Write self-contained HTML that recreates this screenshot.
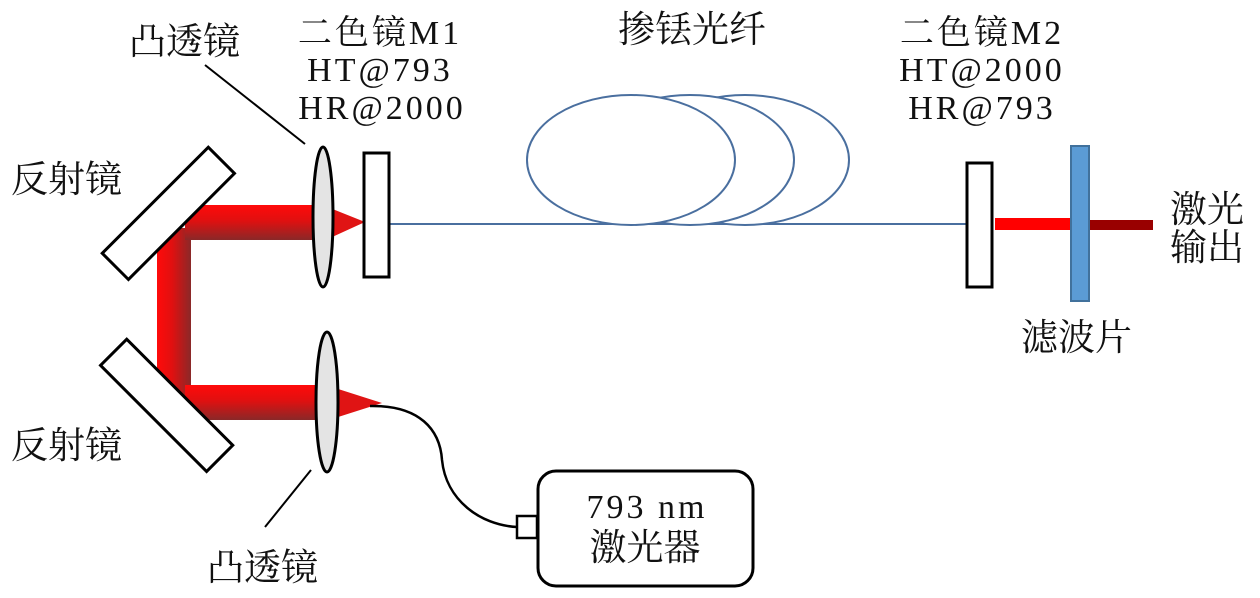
<!DOCTYPE html>
<html><head><meta charset="utf-8"><style>
html,body{margin:0;padding:0;background:#fff}
svg{display:block}
.cj{font-family:"Liberation Serif","Noto Serif CJK SC",serif;font-size:37px;fill:#111}
.lt{font-family:"Liberation Serif","Noto Serif CJK SC",serif;font-size:34px;fill:#111;letter-spacing:3px}
</style></head><body>
<svg width="1260" height="598" viewBox="0 0 1260 598" xmlns="http://www.w3.org/2000/svg">
<defs>
<linearGradient id="gh" x1="0" y1="0" x2="0" y2="1">
<stop offset="0" stop-color="#ff0a0a"/><stop offset="0.45" stop-color="#e01010"/><stop offset="1" stop-color="#8a2828"/></linearGradient>
<linearGradient id="gv" x1="0" y1="0" x2="1" y2="0">
<stop offset="0" stop-color="#ff0a0a"/><stop offset="0.45" stop-color="#e01010"/><stop offset="1" stop-color="#8a2828"/></linearGradient>
</defs>
<rect x="157" y="228" width="34" height="175" fill="url(#gv)"/>
<rect x="185" y="205" width="135" height="35" fill="url(#gh)"/>
<polygon points="330,208 365,222 330,238" fill="#e01414"/>
<rect x="185" y="385" width="140" height="35" fill="url(#gh)"/>
<polygon points="335,388 382,403 335,418" fill="#e01414"/>
<rect x="93" y="195" width="150" height="37" fill="#fff" stroke="#000" stroke-width="3" transform="rotate(-45 168 213)"/>
<rect x="92" y="387" width="150" height="37" fill="#fff" stroke="#000" stroke-width="3" transform="rotate(45 167 405)"/>
<ellipse cx="323" cy="217" rx="10" ry="70" fill="#e4e4e4" stroke="#000" stroke-width="3"/>
<ellipse cx="327" cy="402" rx="11" ry="70" fill="#e4e4e4" stroke="#000" stroke-width="3"/>
<line x1="389" y1="224" x2="967" y2="224" stroke="#4a6f9f" stroke-width="2"/>
<rect x="364" y="153" width="25" height="124" fill="#fff" stroke="#000" stroke-width="3"/>
<ellipse cx="745" cy="160" rx="104" ry="65" fill="#fff" stroke="#4a6f9f" stroke-width="2"/>
<ellipse cx="690" cy="160" rx="104" ry="65" fill="#fff" stroke="#4a6f9f" stroke-width="2"/>
<ellipse cx="631" cy="160" rx="104" ry="65" fill="#fff" stroke="#4a6f9f" stroke-width="2"/>
<rect x="967" y="163" width="25" height="124" fill="#fff" stroke="#000" stroke-width="3"/>
<rect x="995" y="218" width="75" height="12" fill="#ff0000"/>
<rect x="1090" y="220" width="63" height="10" fill="#990000"/>
<rect x="1071" y="146" width="18" height="155" fill="#5b9bd5" stroke="#41719c" stroke-width="2"/>
<line x1="205" y1="65" x2="305" y2="144" stroke="#000" stroke-width="2"/>
<line x1="265" y1="527" x2="311" y2="470" stroke="#000" stroke-width="2"/>
<path d="M370 406 C420 405 440 430 442 460 C446 500 480 525 517 527" fill="none" stroke="#000" stroke-width="2.5"/>
<rect x="517" y="516" width="20" height="22" fill="#fff" stroke="#000" stroke-width="2.5"/>
<rect x="538" y="471" width="215" height="115" rx="18" fill="#fff" stroke="#000" stroke-width="3"/>
<text class="cj" x="129" y="54">凸透镜</text>
<text class="cj" x="207" y="580">凸透镜</text>
<text class="cj" x="11" y="192">反射镜</text>
<text class="cj" x="11" y="458">反射镜</text>
<text class="lt" x="380" y="44" text-anchor="middle">二色镜M1</text>
<text class="lt" x="380" y="81" text-anchor="middle">HT@793</text>
<text class="lt" x="382" y="119" text-anchor="middle">HR@2000</text>
<text class="cj" x="692" y="42" text-anchor="middle">掺铥光纤</text>
<text class="lt" x="982" y="44" text-anchor="middle">二色镜M2</text>
<text class="lt" x="982" y="81" text-anchor="middle">HT@2000</text>
<text class="lt" x="982" y="119" text-anchor="middle">HR@793</text>
<text class="cj" x="1170" y="222">激光</text>
<text class="cj" x="1170" y="260">输出</text>
<text class="cj" x="1021" y="350">滤波片</text>
<text class="lt" x="647" y="518" text-anchor="middle">793 nm</text>
<text class="cj" x="645" y="560" text-anchor="middle">激光器</text>
</svg>
</body></html>
